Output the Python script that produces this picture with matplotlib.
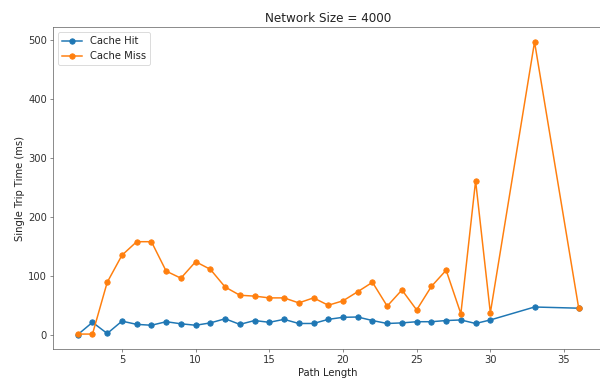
import matplotlib
matplotlib.use("Agg")
import matplotlib.pyplot as plt

path_len = [2, 3, 4, 5, 6, 7, 8, 9, 10, 11, 12, 13, 14, 15, 16, 17, 18, 19, 20,
            21, 22, 23, 24, 25, 26, 27, 28, 29, 30, 33, 36]
cache_hit = [0, 21, 2, 23, 17.5, 16, 22, 18.5, 16, 20, 27, 17.5, 24, 21, 26, 19, 19, 26, 29.5,
             30, 24, 19, 20, 22, 22, 24, 25, 19, 25, 47, 45]
cache_miss = [1, 1, 89, 135, 158, 158, 108, 96, 124, 111, 81, 67, 65.5, 62.5, 62.5, 54, 62.5, 50, 57.5,
              73, 89, 48.5, 76, 42, 82, 109.5, 35.5, 261.5, 37, 497.5, 44.5]

plt.rcParams.update({
    'font.size': 12,
    'axes.edgecolor': '#555555',
    'xtick.color': '#555555',
    'ytick.color': '#555555',
    'xtick.labelcolor': '#333333',
    'ytick.labelcolor': '#333333',
    'axes.labelcolor': '#222222',
    'text.color': '#222222',
})

fig = plt.figure(figsize=(10, 6.35), dpi=60)
ax = fig.add_axes([52.7 / 600, 1 - 349.3 / 381, (603.8 - 52.7) / 600, (349.3 - 27.3) / 381])
ax.plot(path_len, cache_hit, marker='o', markersize=6.5, linewidth=1.8, label='Cache Hit')
ax.plot(path_len, cache_miss, marker='o', markersize=6.5, linewidth=1.8, label='Cache Miss')
ax.set_title('Network Size = 4000', fontsize=14.4)
ax.set_xlabel('Path Length')
ax.set_ylabel('Single Trip Time (ms)')
ax.legend(loc='upper left')
fig.savefig('out.png', dpi=60)
